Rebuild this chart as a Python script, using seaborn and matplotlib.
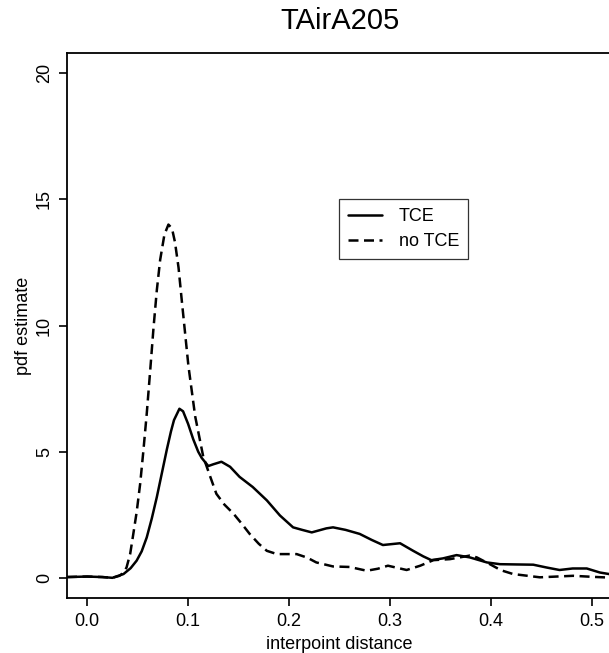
import pandas as pd
import matplotlib
matplotlib.use("Agg")
import matplotlib.pyplot as plt
import seaborn as sns
from matplotlib.lines import Line2D

# --- data (pdf estimates) ---
tce_x = [-0.02, 0.0, 0.015, 0.025, 0.036, 0.043, 0.049, 0.054, 0.059, 0.064, 0.069, 0.074,
         0.079, 0.083, 0.086, 0.0914, 0.095, 0.1, 0.105, 0.11, 0.1135, 0.12, 0.125, 0.133,
         0.1416, 0.151, 0.164, 0.178, 0.191, 0.204, 0.213, 0.2225, 0.237, 0.2436, 0.256,
         0.270, 0.282, 0.293, 0.31, 0.323, 0.333, 0.341, 0.3525, 0.366, 0.379, 0.396, 0.409,
         0.425, 0.442, 0.455, 0.468, 0.481, 0.495, 0.508, 0.517, 0.53]
tce_y = [0.03, 0.05, 0.03, 0.0, 0.15, 0.38, 0.68, 1.05, 1.6, 2.35, 3.2, 4.15,
         5.1, 5.8, 6.25, 6.7, 6.6, 6.1, 5.5, 5.0, 4.75, 4.43, 4.5, 4.6,
         4.4, 4.0, 3.6, 3.07, 2.47, 2.0, 1.9, 1.8, 1.96, 2.0, 1.9,
         1.74, 1.5, 1.3, 1.37, 1.07, 0.85, 0.7, 0.77, 0.9, 0.81, 0.61, 0.54,
         0.53, 0.52, 0.41, 0.31, 0.37, 0.37, 0.21, 0.15, 0.1]

notce_x = [-0.02, 0.0, 0.015, 0.025, 0.032, 0.036, 0.039, 0.0426, 0.0457, 0.049, 0.0525,
           0.0556, 0.059, 0.0624, 0.0657, 0.069, 0.0723, 0.0765, 0.0805, 0.084, 0.087,
           0.0905, 0.0937, 0.1003, 0.107, 0.115, 0.122, 0.128, 0.136, 0.145, 0.153, 0.161,
           0.17, 0.178, 0.188, 0.2076, 0.218, 0.227, 0.2436, 0.26, 0.277, 0.288, 0.298,
           0.3165, 0.33, 0.343, 0.3594, 0.379, 0.386, 0.399, 0.41, 0.422, 0.4485, 0.4815,
           0.5, 0.517, 0.53]
notce_y = [0.03, 0.05, 0.03, 0.0, 0.08, 0.2, 0.41, 0.95, 1.74, 2.6, 3.73,
           5.0, 6.5, 8.2, 9.9, 11.4, 12.6, 13.6, 14.0, 13.85, 13.3,
           12.3, 11.0, 8.4, 6.4, 4.8, 4.0, 3.33, 2.9, 2.54, 2.15, 1.74,
           1.35, 1.07, 0.94, 0.94, 0.8, 0.61, 0.45, 0.43, 0.28, 0.36, 0.48,
           0.31, 0.48, 0.7, 0.74, 0.88, 0.81, 0.54, 0.3, 0.15, 0.02, 0.08,
           0.04, 0.01, 0.0]

df = pd.concat([
    pd.DataFrame({"x": tce_x, "y": tce_y, "group": "TCE"}),
    pd.DataFrame({"x": notce_x, "y": notce_y, "group": "no TCE"}),
], ignore_index=True)

sns.set_style("ticks")
plt.rcParams["font.family"] = ["Liberation Sans", "DejaVu Sans"]
plt.rcParams["text.color"] = "black"
plt.rcParams["axes.labelcolor"] = "black"
plt.rcParams["xtick.color"] = "black"
plt.rcParams["ytick.color"] = "black"

fig = plt.figure(figsize=(6.09, 6.53), dpi=100)
# right edge of the box sits just outside the picture, as in the reference
ax = fig.add_axes([67 / 609, 55 / 653, 545 / 609, 545 / 653])

sns.lineplot(data=df, x="x", y="y", style="group", estimator=None, sort=False,
             dashes={"TCE": "", "no TCE": (4, 2.2)}, color="black", linewidth=1.8,
             ax=ax, legend=False)

ax.set_xlim(-0.02, 0.52)
ax.set_ylim(-0.8, 20.8)
ax.set_xticks([0.0, 0.1, 0.2, 0.3, 0.4, 0.5])
ax.set_xticklabels(["0.0", "0.1", "0.2", "0.3", "0.4", "0.5"])
ax.set_yticks([0, 5, 10, 15, 20])
ax.set_yticklabels(["0", "5", "10", "15", "20"], rotation=90, va="center")
ax.tick_params(axis="both", length=6, width=1.2, labelsize=13, colors="black", direction="out")
ax.tick_params(axis="x", pad=5)
ax.tick_params(axis="y", pad=4)
for s in ax.spines.values():
    s.set_visible(True)
    s.set_linewidth(1.3)
    s.set_color("black")

ax.set_xlabel("interpoint distance", fontsize=13, labelpad=4, color="black")
ax.set_ylabel("pdf estimate", fontsize=13, labelpad=3, color="black")
ax.set_title("TAirA205", fontsize=21, pad=17, color="black")

# legend
handles = [Line2D([], [], color="black", lw=1.8),
           Line2D([], [], color="black", lw=1.8, ls=(0, (4, 2.2)))]
leg = ax.legend(handles, ["TCE", "no TCE"], loc="upper left",
                bbox_to_anchor=((339 - 67) / 545, (598 - 199) / 545),
                fontsize=13, frameon=True, fancybox=False, handlelength=1.9,
                handletextpad=0.9, borderpad=0.5, labelspacing=0.45, borderaxespad=0)
leg.get_frame().set_edgecolor("black")
leg.get_frame().set_linewidth(0.9)
for t in leg.get_texts():
    t.set_color("black")

fig.savefig("out.png", dpi=100)
